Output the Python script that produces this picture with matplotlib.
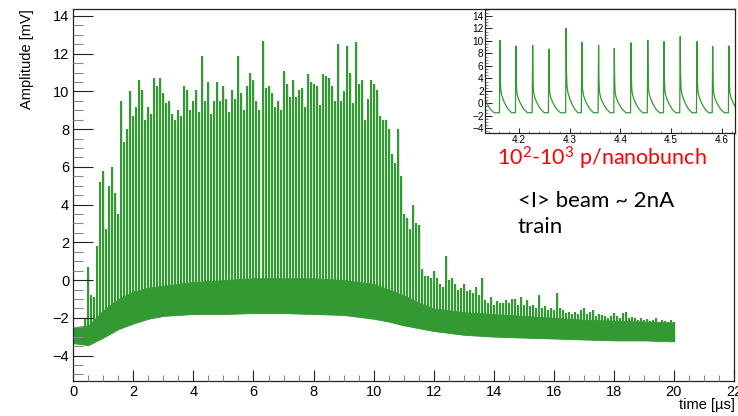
import numpy as np
import matplotlib
matplotlib.use("Agg")
import matplotlib.pyplot as plt
from matplotlib.ticker import MultipleLocator
from matplotlib.patches import Polygon

# ---------------- data ----------------
# envelope of the dense noise band of the main trace
env_t = [0, 0.5, 1, 1.5, 2, 2.5, 3, 3.5, 4, 5, 6, 7, 8, 9, 10, 10.5, 11,
         11.5, 12, 13, 14, 15, 16, 17, 18, 19, 20]
band_lo = [-3.35, -3.45, -3.05, -2.6, -2.3, -2.05, -1.9, -1.85, -1.8, -1.8,
           -1.75, -1.75, -1.8, -1.85, -2.05, -2.2, -2.4, -2.55, -2.7, -2.9,
           -3.0, -3.05, -3.1, -3.15, -3.2, -3.2, -3.25]
band_hi = [-2.5, -2.4, -1.6, -1.0, -0.6, -0.4, -0.3, -0.2, -0.1, 0.0, 0.1,
           0.1, 0.1, 0.0, -0.2, -0.5, -0.8, -1.2, -1.5, -1.7, -1.8, -1.9,
           -2.0, -2.1, -2.15, -2.2, -2.25]

# nanobunch spike maxima, one every 0.1 us starting at 0.4 us
spike_t0 = 0.4
spike_dt = 0.1
spike_peak = [
    -2.0, 0.7, -0.8, -0.9, 1.8, 5.2,
    5.8, 2.7, 5.0, 6.0, 4.6, 3.5, 9.5, 7.3, 8.0, 10.0,
    8.7, 9.2, 10.6, 10.1, 8.5, 9.2, 8.8, 10.7, 10.3, 10.7,
    9.9, 9.4, 9.5, 8.8, 8.5, 9.0, 8.7, 10.3, 10.1, 9.0,
    9.5, 10.1, 8.9, 11.9, 9.5, 10.5, 8.8, 9.5, 10.5, 9.5,
    10.3, 9.6, 8.9, 10.1, 9.6, 11.9, 9.9, 9.0, 10.3, 11.0,
    10.6, 9.5, 9.0, 12.7, 10.2, 10.3, 9.9, 9.2, 9.5, 9.0,
    11.1, 10.4, 9.7, 10.6, 9.7, 10.1, 10.2, 9.2, 10.9, 10.5,
    10.4, 10.3, 9.3, 10.9, 10.8, 10.7, 10.3, 9.5, 12.5, 9.5,
    10.0, 12.4, 11.0, 9.4, 12.6, 10.4, 10.6, 8.5, 9.6, 10.6,
    10.4, 10.1, 8.7, 8.5, 8.5, 8.0, 6.7, 6.2, 8.0, 5.5,
    3.5, 3.3, 2.7, 4.0, 3.0, 2.9, 0.6, 0.2, 0.2, 0.1,
    0.5, 0.1, -0.2, -0.35, 1.25, 0.0, 0.1, -0.2, -0.5, -0.4,
    -0.2, -0.6, -0.5, -0.7, -0.35, -0.8, 0.1, -1.05, -1.2, -0.9,
    -1.3, -1.1, -1.2, -1.2, -1.05, -1.2, -1.0, -1.0, -1.3, -0.9,
    -1.3, -1.05, -1.4, -1.3, -1.5, -0.8, -1.5, -1.4, -1.6, -1.5,
    -1.6, -0.7, -1.5, -1.6, -1.75, -1.7, -1.8, -1.7, -1.8, -1.6,
    -1.5, -1.8, -1.7, -1.6, -1.9, -1.8, -1.85, -1.9, -2.0, -1.9,
    -1.75, -1.9, -2.0, -1.75, -1.7, -2.0, -1.95, -2.0, -2.1, -2.0,
    -2.1, -2.05, -2.15, -2.1, -2.0, -2.2, -2.1, -2.15, -2.2, -2.1,
    -2.2,
]

# inset (zoom 4.13 - 4.63 us): individual nanobunch pulses
inset_peak_t = [4.128, 4.1625, 4.194, 4.227, 4.259, 4.293, 4.324, 4.357,
                4.388, 4.421, 4.454, 4.486, 4.518, 4.551, 4.582, 4.614]
inset_peak_v = [9.0, 10.1, 9.2, 9.3, 8.7, 12.0, 9.8, 9.3, 8.8, 9.7, 10.1,
                9.9, 10.7, 9.9, 9.1, 9.2]
inset_base = -1.5
pulse_dt = [-0.0010, 0.0, 0.0007, 0.0016, 0.0035, 0.007, 0.011, 0.016, 0.023]
pulse_frac = [0.0, 1.0, 0.50, 0.32, 0.24, 0.17, 0.11, 0.05, 0.0]

main_xticks = [0, 2, 4, 6, 8, 10, 12, 14, 16, 18, 20, 22]
main_yticks = [-4, -2, 0, 2, 4, 6, 8, 10, 12, 14]
inset_xticks = [4.2, 4.3, 4.4, 4.5, 4.6]
inset_yticks = [-4, -2, 0, 2, 4, 6, 8, 10, 12, 14]

GREEN = "#339933"
PALE = "#cfe7cf"
ROOTFONT = "Liberation Sans"
NOTEFONT = "Lato"

plt.rcParams["mathtext.fontset"] = "custom"
plt.rcParams["mathtext.rm"] = NOTEFONT
plt.rcParams["mathtext.it"] = NOTEFONT + ":italic"
plt.rcParams["mathtext.bf"] = NOTEFONT + ":bold"

# ---------------- figure ----------------
fig = plt.figure(figsize=(7.38, 4.16), dpi=100)
ax = fig.add_axes([73.3 / 738, 1 - 381 / 416, (734 - 73.3) / 738, (381 - 9) / 416])
ax.set_xlim(0, 22)
ax.set_ylim(-5.35, 14.37)

spike_t = spike_t0 + spike_dt * np.arange(len(spike_peak))
# spikes start at the lower edge of the noise band
clip_verts = list(zip(env_t, band_lo)) + [(20.3, band_lo[-1]), (20.3, 20), (-1, 20), (-1, band_lo[0])]
clip_poly = Polygon(clip_verts, closed=True, transform=ax.transData, visible=False)
ax.add_patch(clip_poly)
halo = ax.vlines(spike_t, -4.5, spike_peak, color=PALE, lw=2.0, zorder=1.9)
core = ax.vlines(spike_t, -4.5, spike_peak, color=GREEN, lw=1.25, zorder=2.0,
                 antialiased=False)
halo.set_clip_path(clip_poly)
core.set_clip_path(clip_poly)
ax.fill_between(env_t, band_lo, band_hi, color=GREEN, lw=0.6, ec=GREEN, zorder=2.2)

ax.set_xticks(main_xticks)
ax.set_yticks(main_yticks)
ax.xaxis.set_minor_locator(MultipleLocator(0.5))
ax.yaxis.set_minor_locator(MultipleLocator(0.5))
ax.tick_params(axis="both", which="both", direction="in", top=False, right=False,
               width=0.8, colors="#222222", labelcolor="black")
ax.tick_params(axis="y", which="major", length=14.4, pad=3)
ax.tick_params(axis="y", which="minor", length=7.2, color="#888888")
ax.tick_params(axis="x", which="major", length=7.9, pad=3)
ax.tick_params(axis="x", which="minor", length=4.3, color="#888888")
for lab in ax.get_xticklabels() + ax.get_yticklabels():
    lab.set_fontfamily(ROOTFONT)
    lab.set_fontsize(10.5)
for sp in ax.spines.values():
    sp.set_linewidth(0.9)
    sp.set_color("#222222")
ax.set_axisbelow(False)

fig.text(27 / 738, 1 - 9 / 416, "Amplitude [mV]", rotation=90, ha="center", va="top",
         family=ROOTFONT, fontsize=10.5)
fig.text(735 / 738, 1 - 405 / 416, "time [\u00b5s]", ha="right", va="center",
         family=ROOTFONT, fontsize=10.5)

# ---------------- inset ----------------
ins = fig.add_axes([485 / 738, 1 - 132.7 / 416, (735 - 485) / 738, (132.7 - 9) / 416])
ins.set_facecolor("white")
ins.set_zorder(5)
xs, ys = [], []
for tp, vp in zip(inset_peak_t, inset_peak_v):
    for d, f in zip(pulse_dt, pulse_frac):
        xs.append(tp + d)
        ys.append(inset_base + f * (vp - inset_base))
ins.plot(xs, ys, color=GREEN, lw=0.9)
ins.set_xlim(4.133, 4.626)
ins.set_ylim(-4.7, 15.12)
ins.set_xticks(inset_xticks)
ins.set_yticks(inset_yticks)
ins.xaxis.set_minor_locator(MultipleLocator(0.02))
ins.yaxis.set_minor_locator(MultipleLocator(0.5))
ins.tick_params(axis="both", which="both", direction="in", top=False, right=False,
                width=0.7, colors="#222222", labelcolor="black", labelsize=7.2)
ins.tick_params(axis="y", which="major", length=4.8, pad=1)
ins.tick_params(axis="y", which="minor", length=2.4, color="#888888")
ins.tick_params(axis="x", which="major", length=3.5, pad=2)
ins.tick_params(axis="x", which="minor", length=1.8, color="#888888")
for lab in ins.get_xticklabels() + ins.get_yticklabels():
    lab.set_fontfamily(ROOTFONT)
for sp in ins.spines.values():
    sp.set_linewidth(0.9)
    sp.set_color("#222222")

# ---------------- annotations ----------------
fig.text(497 / 738, 1 - 158 / 416, r"$\mathrm{10^{2}}$-$\mathrm{10^{3}}$ p/nanobunch",
         color="red", ha="left", va="center", family=NOTEFONT, fontsize=15.5)
fig.text(518 / 738, 1 - 207 / 416, "<I> beam ~ 2nA", color="black",
         ha="left", va="baseline", family=NOTEFONT, fontsize=16)
fig.text(518 / 738, 1 - 233 / 416, "train", color="black",
         ha="left", va="baseline", family=NOTEFONT, fontsize=16)

fig.savefig("out.png", dpi=100)
